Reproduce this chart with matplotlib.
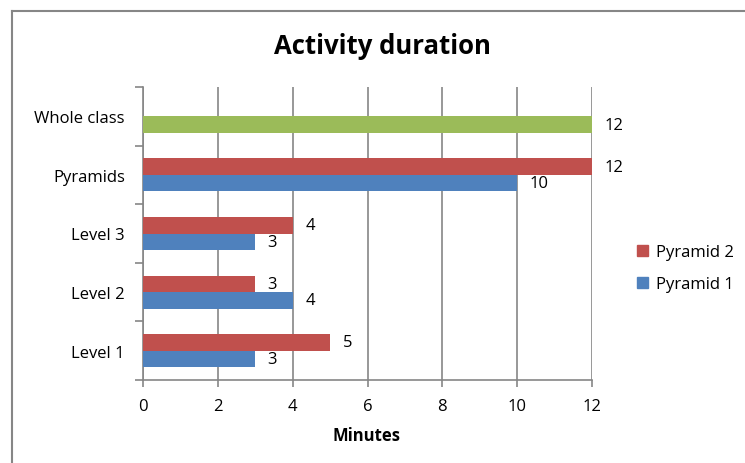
import matplotlib
matplotlib.use("Agg")
import matplotlib.pyplot as plt
from matplotlib.lines import Line2D
from matplotlib.patches import Patch

# activity durations in minutes, bottom to top
categories = ["Level 1", "Level 2", "Level 3", "Pyramids", "Whole class"]
pyramid1 = [3, 4, 3, 10, 12]
pyramid2 = [5, 3, 4, 12, 0]
xticks = [0, 2, 4, 6, 8, 10, 12]

blue = "#4F81BD"
red = "#C0504D"
green = "#9BBB59"
grey = "#868686"

plt.rcParams['font.family'] = ['Open Sans', 'DejaVu Sans']
fs = 12

fig = plt.figure(figsize=(7.45, 4.64), dpi=100)
ax = fig.add_axes([143 / 745, 1 - 381 / 464, 449 / 745, 293 / 464])

h = 0.28
ypos = list(range(len(categories)))

# the whole class point is shown in its own colour
colors1 = [blue] * (len(categories) - 1) + [green]
b1 = ax.barh([y - h / 2 for y in ypos], pyramid1, height=h, color=colors1, zorder=3)
b2 = ax.barh([y + h / 2 for y in ypos[:-1]], pyramid2[:-1], height=h, color=red, zorder=3)

ax.bar_label(b1, labels=[str(v) for v in pyramid1], padding=9, fontsize=fs)
ax.bar_label(b2, labels=[str(v) for v in pyramid2[:-1]], padding=9, fontsize=fs)

ax.set_xlim(0, 12)
ax.set_ylim(-0.5, len(categories) - 0.5)
ax.set_xticks(xticks)
ax.set_yticks(ypos)
ax.set_yticklabels(categories)
ax.set_yticks([y - 0.5 for y in range(len(categories) + 1)], minor=True)

ax.tick_params(axis='y', which='major', length=0, pad=13, labelsize=fs)
ax.tick_params(axis='y', which='minor', length=6, color=grey, width=1.2)
ax.tick_params(axis='x', length=5, color=grey, width=1.2, pad=8, labelsize=fs)

ax.grid(axis='x', color=grey, lw=1.2, zorder=0)
for s in ['top', 'right']:
    ax.spines[s].set_visible(False)
for s in ['left', 'bottom']:
    ax.spines[s].set_color(grey)
    ax.spines[s].set_linewidth(1.2)

fig.text(382 / 745, 1 - 46 / 464, "Activity duration", ha='center', va='center',
         fontsize=18.5, fontweight='bold')
fig.text(367 / 745, 1 - 436 / 464, "Minutes", ha='center', va='center',
         fontsize=fs, fontweight='bold')

handles = [Patch(color=red), Patch(color=blue)]
fig.legend(handles, ["Pyramid 2", "Pyramid 1"], loc='center left',
           bbox_to_anchor=(622 / 745, 1 - 269 / 464), frameon=False,
           handlelength=0.65, handleheight=0.65, handletextpad=0.5,
           labelspacing=0.95, fontsize=fs)

# chart area border along the top and left
fig.add_artist(Line2D([11.5 / 745, 1], [1 - 11.5 / 464] * 2, color=grey, lw=1.5))
fig.add_artist(Line2D([11.5 / 745] * 2, [0, 1 - 11.5 / 464], color=grey, lw=1.5))

fig.savefig("out.png", dpi=100)
